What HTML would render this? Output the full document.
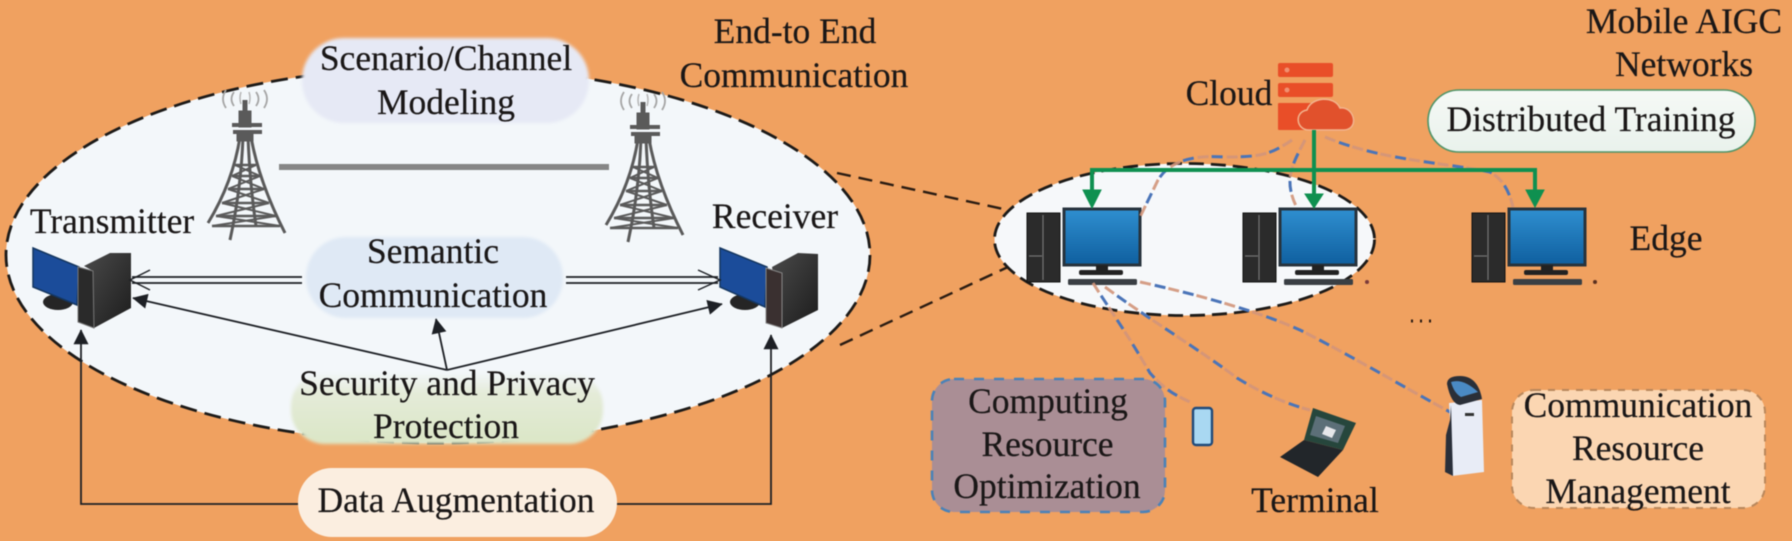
<!DOCTYPE html>
<html><head><meta charset="utf-8"><style>
html,body{margin:0;padding:0;background:#F0A160;overflow:hidden;}
svg{display:block;filter:blur(0.55px);}
text{font-family:"Liberation Serif",serif;font-size:35.5px;fill:#1a1717;text-anchor:middle;stroke:#1a1717;stroke-width:0.2px;}
</style></head><body>
<svg width="1792" height="541" viewBox="0 0 1792 541" xmlns="http://www.w3.org/2000/svg">
<defs>
<filter id="b1" x="-5%" y="-5%" width="110%" height="110%"><feGaussianBlur stdDeviation="1.6"/></filter>
<linearGradient id="scr" x1="0" y1="0" x2="0" y2="1"><stop offset="0" stop-color="#2f8fd0"/><stop offset="1" stop-color="#0f5f9f"/></linearGradient>
<linearGradient id="tw" x1="0" y1="0" x2="1" y2="1"><stop offset="0" stop-color="#4a4a4a"/><stop offset="1" stop-color="#1c1c1c"/></linearGradient>
<linearGradient id="sec" x1="0" y1="0" x2="0" y2="1"><stop offset="0" stop-color="#f3f7fa"/><stop offset="0.3" stop-color="#e4ebd8"/><stop offset="1" stop-color="#dbe6c6"/></linearGradient>
<linearGradient id="dt" x1="0" y1="0" x2="0" y2="1"><stop offset="0" stop-color="#f6f9f6"/><stop offset="1" stop-color="#e9f2ec"/></linearGradient>
<g id="pc">
<rect x="1027" y="213" width="33" height="69" fill="#2b2b2b" stroke="#111" stroke-width="1"/>
<line x1="1043" y1="215" x2="1043" y2="280" stroke="#777" stroke-width="1.2"/>
<line x1="1029" y1="256" x2="1042" y2="256" stroke="#777" stroke-width="1.2"/>
<rect x="1064" y="209" width="76" height="56" fill="url(#scr)" stroke="#27333d" stroke-width="3"/>
<rect x="1096" y="265" width="12" height="6" fill="#222"/>
<rect x="1079" y="270" width="44" height="5" rx="2" fill="#222"/>
<rect x="1068" y="279" width="69" height="6" rx="1.5" fill="#3a3f44"/>
</g>
<g id="twr" fill="none" stroke="#5a5a5a" stroke-width="3">
<path d="M245 100V116" stroke-width="5"/>
<path d="M240 112h10v14h-10z" fill="#5a5a5a"/>
<path d="M232 125h30M233 132h29" stroke-width="4"/>
<path d="M238 132h14v8h-14z" fill="#5a5a5a"/>
<path d="M240 137Q233 182 208 223M243 137Q241 190 230 240M248 137Q250 185 256 226M251 137Q259 182 285 233"/>
<path d="M235 165h21M232 176h28M228 189h36M222 203h47M216 216h60M212 226h68" stroke-width="2.6"/>
<path d="M235 165L260 176M256 165L232 176M232 176L264 189M260 176L228 189M228 189L269 203M264 189L222 203M222 203L276 216M269 203L216 216M216 216L280 226M276 216L212 226" stroke-width="2"/>
<path d="M234 92q-5 7 0 14M256 92q5 7 0 14M226 90q-6 9 0 18M264 90q6 9 0 18" stroke="#a5a5a5" stroke-width="1.8"/>
<path d="M241 92q-2 6 0 12M249 92q2 6 0 12" stroke="#b5b5b5" stroke-width="1.5"/>
</g>
<marker id="ah" viewBox="0 0 10 10" refX="9.5" refY="5" markerWidth="17" markerHeight="15" markerUnits="userSpaceOnUse" orient="auto"><path d="M0 0L10 5L0 10z" fill="#1d2025"/></marker>
<path id="c1" d="M1292 140C1270 155 1260 157 1225 157C1195 155 1170 160 1158 180L1140 217"/>
<path id="c2" d="M1305 140C1292 165 1283 180 1297 208"/>
<path id="c3" d="M1325 137C1380 160 1440 162 1490 172C1505 180 1510 195 1513 207"/>
<path id="c4" d="M1093 283C1110 310 1125 330 1150 373C1165 390 1175 395 1190 402"/>
<path id="c5" d="M1105 287C1150 320 1200 350 1237 378C1265 395 1290 405 1310 410"/>
<path id="c6" d="M1140 282C1200 295 1260 312 1300 330C1350 355 1400 385 1450 412"/>
</defs>

<path d="M837 173L1008 210M840 345L1008 267" stroke="#2a1c12" stroke-width="2.4" stroke-dasharray="14 8" fill="none"/>

<ellipse cx="438" cy="255" rx="432" ry="188" fill="#f3f7fa" stroke="#1c1a18" stroke-width="2.8" stroke-dasharray="17 8"/>

<rect x="302" y="38" width="287" height="85" rx="42" fill="#e6e9f5" filter="url(#b1)"/>
<rect x="306" y="237" width="257" height="81" rx="40" fill="#dfe9f5" filter="url(#b1)"/>
<rect x="291" y="372" width="312" height="72" rx="34" fill="url(#sec)" filter="url(#b1)"/>
<rect x="298" y="468" width="319" height="69" rx="34" fill="#fbeee0"/>

<use href="#twr"/>
<use href="#twr" transform="translate(398,2)"/>
<line x1="279" y1="167" x2="609" y2="167" stroke="#868686" stroke-width="6"/>

<ellipse cx="58" cy="302" rx="15" ry="8" fill="#252525"/>
<path d="M33 248L79 267L77 305L33 287z" fill="#1b4c9a" stroke="#14365f" stroke-width="1.5"/>
<path d="M93 271L84 266L110 253L131 253L131 308L94 328z" fill="url(#tw)"/>
<path d="M78 267L93 271L94 328L78 322z" fill="#2a2a2a" stroke="#777" stroke-width="1"/>
<ellipse cx="745" cy="302" rx="15" ry="8" fill="#252525"/>
<path d="M720 248L767 267L765 307L720 287z" fill="#1b4c9a" stroke="#14365f" stroke-width="1.5"/>
<path d="M772 267L798 253L818 254L818 310L782 328z" fill="url(#tw)"/>
<path d="M766 268L782 273L782 328L766 323z" fill="#3a3030" stroke="#888" stroke-width="1"/>

<g fill="none" stroke="#1d2025" stroke-width="1.8">
<path d="M302 277H132M302 283H132"/>
<path d="M150 270L130 280L150 290" stroke-width="1.4"/>
<path d="M566 277H718M566 283H718"/>
<path d="M698 270L720 280L698 290" stroke-width="1.4"/>
<path d="M447 370L133 298" marker-end="url(#ah)"/>
<path d="M447 370L436 319" marker-end="url(#ah)"/>
<path d="M447 370L722 304" marker-end="url(#ah)"/>
<path d="M298 504H81V330" marker-end="url(#ah)"/>
<path d="M617 504H771V335" marker-end="url(#ah)"/>
</g>

<ellipse cx="1184.5" cy="239.5" rx="190" ry="76" fill="#f6f8fa" stroke="#1c1a18" stroke-width="2.8" stroke-dasharray="15 7"/>

<use href="#pc"/>
<use href="#pc" transform="translate(216,0)"/>
<use href="#pc" transform="translate(445,0)"/>
<circle cx="1367" cy="282" r="2" fill="#7a3a3a"/>
<circle cx="1595" cy="282" r="2" fill="#5a3020"/>
<path d="M1411 321h2M1420 321h2M1429 321h2" stroke="#2a1a10" stroke-width="3"/>

<g fill="none" stroke-width="3">
<g stroke="#d2957a" stroke-dasharray="11 18" opacity=".9">
<use href="#c1"/><use href="#c2"/><use href="#c3"/><use href="#c4"/><use href="#c5"/><use href="#c6"/>
</g>
<g stroke="#4a74b8" stroke-dasharray="11 18" stroke-dashoffset="14">
<use href="#c1"/><use href="#c2"/><use href="#c3"/><use href="#c4"/><use href="#c5"/><use href="#c6"/>
</g>
</g>

<rect x="1278" y="63" width="55" height="14" rx="2" fill="#e94e28"/>
<rect x="1278" y="83" width="55" height="14" rx="2" fill="#e94e28"/>
<rect x="1278" y="103" width="40" height="27" rx="1" fill="#e94e28"/>
<circle cx="1287" cy="70" r="2.5" fill="#f09070"/>
<circle cx="1287" cy="90" r="2.5" fill="#f09070"/>
<path d="M1309 130C1296 130 1294 112 1307 110C1311 97 1334 95 1340 108C1354 106 1360 129 1344 130Z" fill="#e1512c" stroke="#f2b48e" stroke-width="1.5"/>

<g fill="none" stroke="#0f9050" stroke-width="4">
<path d="M1092 192V170H1535V192"/>
<path d="M1314 130V196"/>
</g>
<path d="M1083 190H1101L1092 208zM1305 194H1323L1314 208zM1526 190H1544L1535 207z" fill="#0f9050" stroke="#0f9050" stroke-width="1"/>

<rect x="1428" y="90" width="327" height="62" rx="31" fill="url(#dt)" stroke="#4f9468" stroke-width="1.6"/>

<rect x="932" y="379" width="233" height="133" rx="22" fill="#aa8e95" stroke="#4a82b8" stroke-width="2.6" stroke-dasharray="10 10"/>
<rect x="1512" y="390" width="253" height="118" rx="22" fill="#fbd6b2" stroke="#b8875c" stroke-width="2" stroke-dasharray="7 7"/>

<rect x="1193" y="408" width="19" height="37" rx="3" fill="#a9d8f2" stroke="#1f4a7a" stroke-width="2.4"/>

<path d="M1313 408L1356 423L1343 450L1304 440z" fill="#26463c"/>
<path d="M1316 416L1345 426L1338 443L1310 435z" fill="#5c6f78"/>
<path d="M1326 426L1336 430L1332 438L1322 434z" fill="#e6e6ea"/>
<path d="M1304 440L1280 457L1318 477L1343 450z" fill="#22262a"/>

<path d="M1449 403L1482 400L1484 472L1452 476L1451 440z" fill="#e8ecf6"/>
<path d="M1451 405L1453 476L1445 472L1446 435L1450 420z" fill="#2a2f3a"/>
<path d="M1447 384Q1447 376 1460 376Q1478 376 1482 399L1460 405Q1451 404 1447 384z" fill="#2a2f38"/>
<path d="M1451 382Q1463 378 1478 392L1461 397Q1454 393 1451 382z" fill="#4a8ac4"/>
<rect x="1465" y="413" width="9" height="3" fill="#333"/>

<text x="795" y="43">End-to End</text>
<text x="794" y="87">Communication</text>
<text x="446" y="70">Scenario/Channel</text>
<text x="446" y="114">Modeling</text>
<text x="112" y="233">Transmitter</text>
<text x="775" y="228">Receiver</text>
<text x="433" y="263">Semantic</text>
<text x="433" y="307">Communication</text>
<text x="447" y="395">Security and Privacy</text>
<text x="446" y="438">Protection</text>
<text x="456" y="512">Data Augmentation</text>
<text x="1229" y="105">Cloud</text>
<text x="1684" y="33">Mobile AIGC</text>
<text x="1684" y="76">Networks</text>
<text x="1591" y="131">Distributed Training</text>
<text x="1666" y="250">Edge</text>
<text x="1048" y="413">Computing</text>
<text x="1047.5" y="456">Resource</text>
<text x="1047" y="498">Optimization</text>
<text x="1315" y="512">Terminal</text>
<text x="1638" y="417">Communication</text>
<text x="1638" y="460">Resource</text>
<text x="1638" y="503">Management</text>
</svg>
</body></html>
